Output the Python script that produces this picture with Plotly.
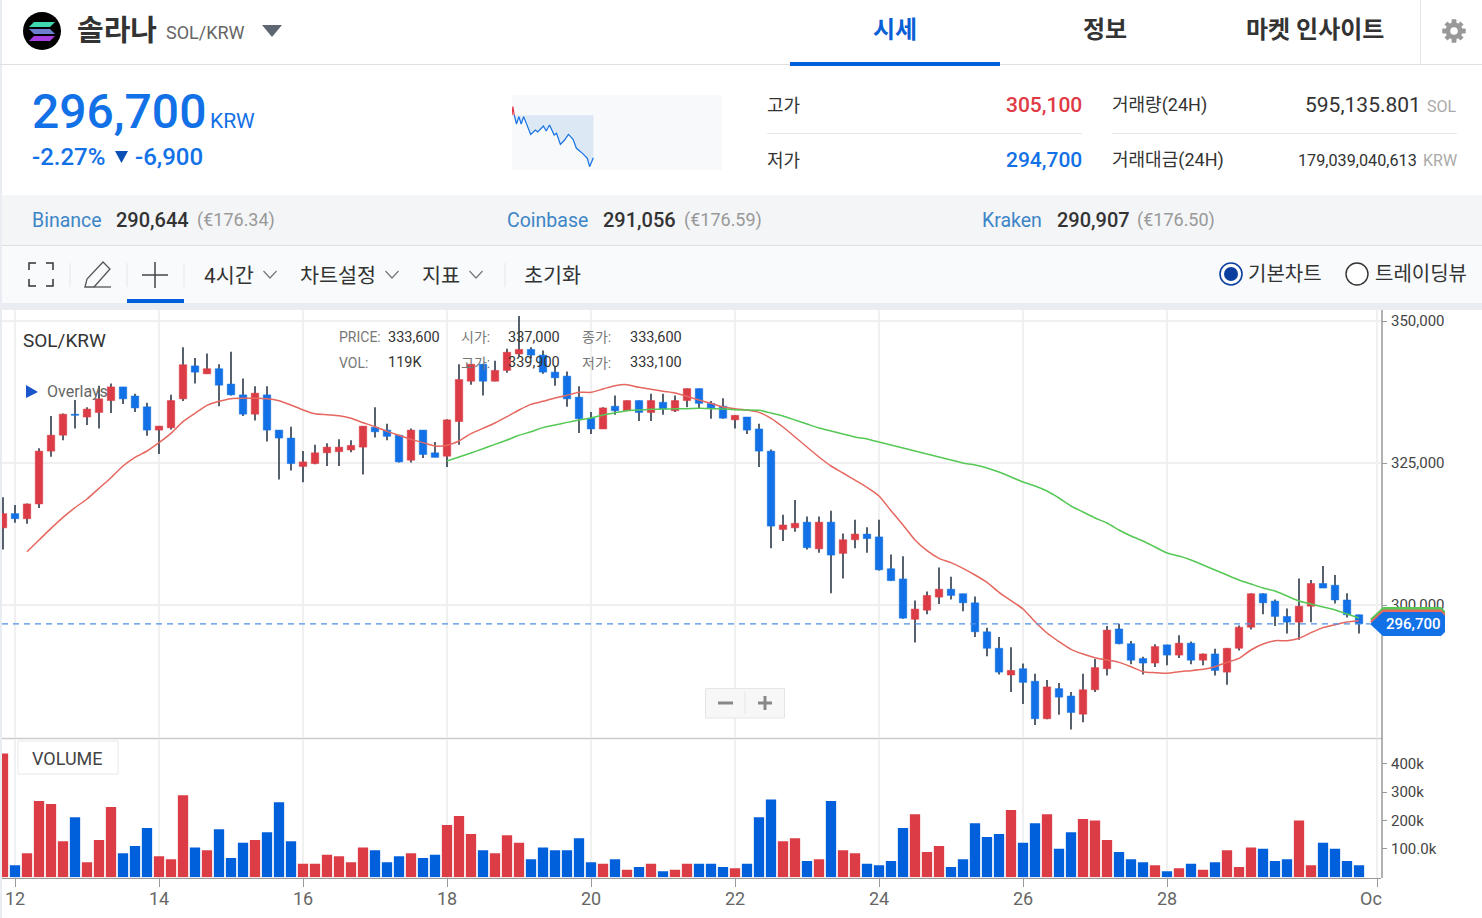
import numpy as np
import pandas as pd
import plotly.graph_objects as go

W, H = 1482, 918

# 4h candles, SOL/KRW
opens = [
    313600, 316100, 315200, 317800, 327100, 329900, 333600, 333100, 333900, 336000,
    338400, 336800, 334900, 330800, 331200, 336300, 342100, 340700, 341600, 338900,
    337000, 333600, 337000, 330800, 329400, 324400, 324900, 326800, 327000, 327300,
    327800, 331300, 330800, 329900, 325500, 330800, 326800, 326200, 332300, 339400,
    342400, 339400, 341300, 344200, 345000, 344000, 341000, 340300, 336600, 332900,
    331000, 335000, 334200, 336000, 333900, 335700, 334200, 336000, 338100, 335500,
    335000, 332600, 333100, 331000, 327100, 313300, 313600, 314600, 309900, 314600,
    309100, 311500, 312500, 312000, 306400, 304600, 297500, 299100, 301400, 302800,
    302000, 300400, 295300, 292400, 287700, 288800, 286600, 280000, 285300, 284000,
    280800, 285100, 288800, 295800, 293200, 290600, 289800, 293000, 291200, 293300,
    290300, 291400, 288200, 292400, 296100, 302000, 300700, 298000, 297000, 299800,
    303800, 303500, 300900, 298300,
]
highs = [
    319000, 317600, 317900, 327600, 333300, 333700, 336100, 334800, 338600, 339000,
    338400, 337200, 335600, 331500, 337000, 345400, 343500, 344300, 342400, 344600,
    339900, 338500, 338500, 330800, 331400, 327100, 328200, 328500, 329200, 329000,
    331500, 334800, 331900, 329900, 331100, 330800, 328700, 332700, 342400, 342400,
    342400, 343000, 345100, 350900, 345400, 344800, 342100, 341100, 338500, 334000,
    334800, 336900, 336000, 336000, 337200, 337200, 336900, 338100, 338100, 335900,
    336400, 333400, 333100, 331900, 327400, 315900, 318500, 315600, 315600, 316600,
    312600, 315000, 313700, 315000, 308900, 308600, 300800, 302400, 306600, 305000,
    302000, 301500, 296000, 294400, 292600, 289700, 287900, 286800, 286300, 284700,
    287900, 290500, 296300, 296700, 293700, 290900, 293100, 293000, 294700, 293600,
    291500, 292300, 292400, 296400, 302100, 302100, 301000, 299400, 304700, 304400,
    306900, 305300, 302100, 298300,
]
lows = [
    309800, 314500, 314300, 317100, 326100, 329000, 331100, 331700, 331100, 333800,
    335400, 334000, 329800, 326600, 330900, 335900, 339000, 340700, 335000, 336900,
    333300, 332500, 328800, 322100, 323700, 321600, 324800, 324500, 324500, 326900,
    323000, 329500, 329000, 325100, 325100, 325900, 326000, 324300, 328200, 338800,
    336900, 339400, 340900, 343700, 343400, 340700, 338600, 334900, 330300, 330100,
    331000, 333500, 334200, 332400, 332400, 333500, 334000, 334800, 334600, 332800,
    332800, 331100, 330100, 324300, 310000, 311300, 312900, 309800, 309200, 302100,
    304700, 310000, 309200, 306100, 304300, 297600, 293400, 298400, 300200, 301000,
    298900, 294400, 291000, 287800, 284700, 282600, 278900, 279900, 280700, 278100,
    279400, 284700, 287600, 293100, 289600, 287800, 289100, 289400, 290700, 289600,
    289400, 287600, 286000, 292000, 295700, 298400, 296300, 295000, 293900, 297000,
    303000, 300300, 297800, 295000,
]
closes = [
    316100, 315200, 317800, 327100, 329900, 333600, 333400, 334500, 336300, 338400,
    336300, 334700, 330800, 331500, 336000, 342300, 341000, 341600, 338700, 337000,
    333600, 337300, 330800, 329400, 324900, 325200, 326800, 327800, 327800, 328100,
    331500, 330500, 329700, 325200, 330800, 326500, 326000, 332600, 339700, 342400,
    339400, 341300, 344500, 345000, 344000, 341000, 340000, 336300, 332800, 331000,
    334700, 334200, 336000, 333900, 336000, 334500, 336000, 338100, 335500, 334700,
    332900, 333400, 330800, 327100, 313900, 314100, 314400, 310100, 314600, 308800,
    311500, 312500, 311700, 306200, 304300, 297700, 299300, 301700, 302800, 301700,
    300400, 295300, 292400, 288200, 288500, 286400, 280000, 285600, 283800, 281100,
    285100, 289000, 295600, 293200, 290300, 289800, 292700, 291200, 293300, 290300,
    291400, 288500, 292400, 296100, 302000, 300400, 298000, 297000, 299800, 303800,
    303000, 300900, 298300, 296700,
]
volumes = [
    436000, 42000, 84000, 268000, 258000, 127000, 211000, 53000, 131000, 247000,
    84000, 110000, 173000, 74000, 63000, 289000, 105000, 95000, 169000, 68000,
    121000, 131000, 158000, 264000, 127000, 47000, 47000, 79000, 74000, 53000,
    105000, 95000, 53000, 74000, 84000, 68000, 79000, 184000, 216000, 152000,
    95000, 84000, 148000, 121000, 63000, 105000, 95000, 95000, 137000, 53000,
    47000, 63000, 26000, 36000, 47000, 21000, 26000, 47000, 47000, 47000,
    36000, 32000, 47000, 211000, 274000, 127000, 137000, 57000, 63000, 268000,
    95000, 84000, 47000, 42000, 57000, 173000, 222000, 89000, 110000, 36000,
    63000, 190000, 142000, 152000, 237000, 121000, 190000, 222000, 100000, 158000,
    205000, 200000, 131000, 89000, 63000, 53000, 42000, 21000, 32000, 47000,
    26000, 53000, 95000, 36000, 105000, 100000, 57000, 63000, 200000, 42000,
    121000, 100000, 57000, 42000,
]

# red line starts at the 3rd candle, green one at the 38th
ma_red = [
    309400, 311450, 313500, 315440, 317150, 318670, 320550, 322420, 324480, 326000,
    327120, 328590, 330230, 332280, 333750, 335160, 335860, 336330, 336390, 336390,
    336330, 335980, 335220, 334340, 333690, 333510, 333340, 332870, 332100, 331400,
    330580, 329880, 329170, 328590, 328000, 328120, 328880, 330170, 331110, 332050,
    333160, 334340, 335330, 335860, 336450, 336920, 337450, 337450, 338030, 338620,
    338790, 338320, 337970, 337620, 337330, 336740, 336100, 335510, 334860, 334570,
    334340, 333920, 332870, 331340, 329580, 327820, 326060, 324480, 323250, 322000,
    320730, 319200, 316620, 314100, 311460, 309580, 308230, 307470, 306470, 305300,
    304000, 302240, 300780, 299310, 297080, 295090, 293560, 292210, 291390, 290750,
    290330, 289920, 289160, 288280, 288100, 287990, 288280, 288460, 288690, 289160,
    289920, 290630, 292100, 293150, 293740, 293740, 294150, 295150, 296030, 296550,
    297020, 297260,
]
ma_green = [
    325360, 326060, 326770, 327530, 328290, 329050, 329880, 330520, 331230, 331700,
    332160, 332580, 332930, 333460, 333870, 334220, 334340, 334450, 334510, 334570,
    334570, 334630, 334570, 334510, 334390, 334340, 334280, 333810, 333280, 332580,
    331870, 331170, 330640, 330110, 329580, 329230, 328700, 328180, 327650, 327120,
    326590, 326060, 325540, 325010, 324660, 324130, 323420, 322540, 321660, 320960,
    320080, 318850, 317440, 316380, 315330, 314450, 313220, 312160, 311280, 310220,
    309170, 308640, 307940, 307060, 306180, 305300, 304420, 303710, 303010, 302480,
    301600, 300720, 300190, 299660, 299140, 298430, 297730,
]

# little 24h chart in the header
spark_hours = [0.25, 0.51, 0.79, 1.05, 1.33, 1.76, 2.14, 2.67, 2.94, 3.59, 3.91, 4.29,
               4.82, 5.09, 5.53, 6.01, 6.45, 6.98, 7.36, 8.06, 8.61, 8.87, 9.30]
spark_prices = [303650, 302100, 303370, 302100, 303370, 301630, 300300, 301050, 300710,
                301750, 300880, 301920, 300190, 300480, 298570, 299320, 300300, 299440,
                297880, 297010, 296140, 294700, 296260]
spark_up_hours = [0.0, 0.1, 0.25]
spark_up_prices = [303600, 305100, 303650]
spark_base = 303600

day_ticks = ["2021-09-12", "2021-09-14", "2021-09-16", "2021-09-18", "2021-09-20",
             "2021-09-22", "2021-09-24", "2021-09-26", "2021-09-28", "2021-09-30 22:00"]
day_labels = ["12", "14", "16", "18", "20", "22", "24", "26", "28", ""]
price_ticks = [300000, 325000, 350000]
price_labels = ["300,000", "325,000", "350,000"]
vol_ticks = [100000, 200000, 300000, 400000]
vol_labels = ["100.0k", "200k", "300k", "400k"]
last_price = 296700

RED = "#dc3c46"
BLUE = "#1271e6"
VOL_BLUE = "#0060db"
WICK = "#1f2d3d"
GRID = "#f0f0f0"
SANS = "Roboto, 'Noto Sans CJK KR', sans-serif"

dates = pd.date_range("2021-09-11 20:00", periods=len(opens), freq="4h")
px_ms = 20 * 60 * 1000  # one screen pixel of the time axis
o, h, l, c = map(np.array, (opens, highs, lows, closes))
up = c >= o
t_range = [dates[0] - pd.Timedelta(minutes=20), dates[0] + pd.Timedelta(minutes=20 * 1378)]


def px(x):
    return x / W


def py(y):
    return 1 - y / H


shapes = []
notes = []


def text(x, y, s, size, color="#333333", anchor="left", weight=400, family=SANS):
    notes.append(dict(x=px(x), y=py(y), xref="paper", yref="paper", text=s, showarrow=False,
                      xanchor=anchor, yanchor="middle", borderpad=0, borderwidth=0,
                      font=dict(size=size, color=color, family=family, weight=weight)))


def rect(x0, y0, x1, y1, fill, line=None, layer="below"):
    shapes.append(dict(type="rect", xref="paper", yref="paper", x0=px(x0), x1=px(x1), y0=py(y0), y1=py(y1),
                       fillcolor=fill, line=dict(width=1 if line else 0, color=line or fill), layer=layer))


def seg(x0, y0, x1, y1, color, width=1, layer="below"):
    shapes.append(dict(type="line", xref="paper", yref="paper", x0=px(x0), x1=px(x1), y0=py(y0), y1=py(y1),
                       line=dict(color=color, width=width), layer=layer))


def poly(pts, fill=None, line=None, width=1, close=True, layer="above"):
    d = "M " + " L ".join(f"{px(a):.5f} {py(b):.5f}" for a, b in pts) + (" Z" if close else "")
    shapes.append(dict(type="path", xref="paper", yref="paper", path=d, layer=layer,
                       fillcolor=fill or "rgba(0,0,0,0)",
                       line=dict(color=line or "rgba(0,0,0,0)", width=width if line else 0)))


def circle(cx, cy, r, fill, line=None, width=1):
    shapes.append(dict(type="circle", xref="paper", yref="paper", x0=px(cx - r), x1=px(cx + r),
                       y0=py(cy - r), y1=py(cy + r), fillcolor=fill, layer="above",
                       line=dict(color=line or fill, width=width if line else 0)))


# page blocks
rect(0, 195, W, 245, "#f3f5f7")
seg(0, 245.5, W, 245.5, "#dddfe3")
rect(0, 246, W, 303, "#f8fafc")
rect(0, 303, W, 310, "#e9edf2")
rect(0, 0, 2, H, "#e9edf2")
seg(0, 64.5, W, 64.5, "#e0e0e0")
seg(1420.5, 0, 1420.5, 64, "#e5e5e5")
rect(790, 62, 1000, 66, "#0060db")
seg(767, 133.5, 1082, 133.5, "#e5e7ea")
seg(1112, 133.5, 1457, 133.5, "#e5e7ea")
rect(512, 95, 722, 170, "#f7f9fb")

# logo
circle(42, 31, 19, "#000000")
poly([(34, 22), (55, 22), (50, 27), (29, 27)], fill="#3fd8b0")
poly([(29, 29), (50, 29), (55, 34), (34, 34)], fill="#6e7fd0")
poly([(34, 36), (55, 36), (50, 41), (29, 41)], fill="#a63fe0")
poly([(262, 25), (282, 25), (272, 37)], fill="#5f6673")

# header
text(77, 31, "솔라나", 29, weight=700)
text(166, 32, "SOL/KRW", 18, "#666666")
text(895, 30, "시세", 24, "#0a5fd6", "center", 700)
text(1105, 30, "정보", 24, "#333333", "center", 700)
text(1315, 30, "마켓 인사이트", 24, "#333333", "center", 700)

# gear
for a, b in ((1454, 19.5), (1454, 42.5), (1442.5, 31), (1465.5, 31)):
    seg(a, b, 2 * 1454 - a, 2 * 31 - b, "#999999", 4.5, "above")
for a, b in ((1446, 23), (1462, 23)):
    seg(a, b, 2 * 1454 - a, 2 * 31 - b, "#999999", 4.5, "above")
circle(1454, 31, 8.5, "#999999")
circle(1454, 31, 3.8, "#ffffff")

text(32, 111, "296,700", 48, BLUE, weight=500)
text(210, 121, "KRW", 21, BLUE)
text(32, 157, "-2.27%", 24, BLUE, weight=500)
poly([(115, 151), (128, 151), (121.5, 163)], fill="#0a4fb5")
text(135, 157, "-6,900", 24, BLUE, weight=500)

text(767, 105, "고가", 18)
text(1082, 105, "305,100", 21, "#e03a45", "right", 500)
text(767, 160, "저가", 18)
text(1082, 160, "294,700", 21, BLUE, "right", 500)
text(1112, 105, "거래량(24H)", 18)
text(1421, 105, "595,135.801", 21, "#333333", "right")
text(1457, 106, "SOL", 16, "#aaaaaa", "right")
text(1112, 160, "거래대금(24H)", 18)
text(1417, 161, "179,039,040,613", 16.2, "#333333", "right")
text(1457, 161, "KRW", 16, "#aaaaaa", "right")

for name, nx, val, vx, eur, ex in [("Binance", 32, "290,644", 116, "(€176.34)", 197),
                                   ("Coinbase", 507, "291,056", 603, "(€176.59)", 684),
                                   ("Kraken", 982, "290,907", 1057, "(€176.50)", 1137)]:
    text(nx, 220, name, 19.5, "#3d85c6")
    text(vx, 220, val, 20, "#333333", weight=500)
    text(ex, 220, eur, 18, "#999999")

# toolbar
for pts in ([(29, 270), (29, 263), (36, 263)], [(46, 263), (53, 263), (53, 270)],
            [(29, 279), (29, 286), (36, 286)], [(46, 286), (53, 286), (53, 279)]):
    poly(pts, line="#333333", width=1.5, close=False)
poly([(85, 287), (87, 279), (103, 262), (110, 269), (94, 287)], line="#555555", width=1.3)
seg(94, 287, 111, 287, "#555555", 1.3, "above")
seg(155, 262, 155, 288, "#444444", 1.5, "above")
seg(142, 275, 168, 275, "#444444", 1.5, "above")
rect(127, 299, 184, 303, "#0060db")
for dx in (70, 127, 184, 505):
    seg(dx, 263, dx, 287, "#e4e7eb")
text(204, 276, "4시간", 20.7)
text(300, 276, "차트설정", 20.7)
text(422, 276, "지표", 20.7)
text(524, 276, "초기화", 20.7)
for cx in (270, 392, 476):
    poly([(cx - 6.5, 271), (cx, 278), (cx + 6.5, 271)], line="#777777", width=1.2, close=False)
circle(1231, 274, 11, "#ffffff", "#0a3fa0", 1.6)
circle(1231, 274, 7, "#0a3fa0")
text(1248, 274, "기본차트", 20)
circle(1357, 274, 11, "#ffffff", "#333333", 1.4)
text(1375, 274, "트레이딩뷰", 20)

# chart frame
seg(2, 738.5, 1382, 738.5, "#cccccc", 1.5)
seg(1377, 310, 1377, 878, "#dddddd", 1)
seg(1382, 310, 1382, 878, "#999999", 1.5, "above")

# floating labels on the chart
text(23, 340, "SOL/KRW", 19)
text(339, 337, "PRICE:", 14, "#777777")
text(388, 337, "333,600", 14.5)
text(461, 337, "시가:", 14, "#777777")
text(508, 337, "337,000", 14.5)
text(582, 337, "종가:", 14, "#777777")
text(630, 337, "333,600", 14.5)
text(339, 363, "VOL:", 14, "#777777")
text(388, 363, "119K", 14.5)
text(461, 363, "고가:", 14, "#777777")
text(508, 363, "339,900", 14.5)
text(582, 363, "저가:", 14, "#777777")
text(630, 363, "333,100", 14.5)
poly([(26, 385), (38, 392), (26, 398)], fill="#1a55c9")
text(47, 392, "Overlays", 16, "#666666")

# zoom buttons
rect(705.5, 688.5, 784.5, 718, "#f7f7f7", "#e5e5e5", "above")
seg(745, 692, 745, 714, "#e5e5e5", 1, "above")
seg(718, 703, 733, 703, "#888888", 3, "above")
seg(758, 703, 772, 703, "#888888", 3, "above")
seg(765, 696, 765, 710, "#888888", 3, "above")

rect(18, 741, 118, 774, "#ffffff", "#e8e8e8", "above")
text(67, 758, "VOLUME", 18, "#444444", "center")

# last price line and tag
shapes.append(dict(type="line", xref="paper", yref="y", x0=px(2), x1=px(1370), y0=last_price, y1=last_price,
                   line=dict(color="#4d90e8", width=1.3, dash="6px 5px"), layer="above"))
for shift, color in ((-5, "#55c855"), (-2.5, "#e5675f"), (0, BLUE)):
    poly([(1370, 624 + shift), (1383, 612 + shift), (1441, 612 + shift), (1445, 616 + shift),
          (1445, 632 + shift), (1441, 636 + shift), (1383, 636 + shift)], fill=color)
text(1413, 624, "296,700", 15, "#ffffff", "center", 500)
text(1382, 898, "Oc", 18, "#666666", "right")

fig = go.Figure()

# wicks and bodies are separate bars because the wicks are dark
fig.add_trace(go.Bar(x=dates, base=l, y=h - l, width=1.5 * px_ms, marker=dict(color=WICK, line=dict(width=0)),
                     xaxis="x", yaxis="y"))
fig.add_trace(go.Bar(x=dates, base=np.minimum(o, c), y=np.abs(c - o), width=7.5 * px_ms,
                     marker=dict(color=np.where(up, RED, BLUE).tolist(),
                                 line=dict(color=np.where(up, "rgba(220,60,70,.5)", "rgba(18,113,230,.5)").tolist(), width=1)),
                     xaxis="x", yaxis="y"))
fig.add_trace(go.Scatter(x=dates[2:], y=ma_red, mode="lines", line=dict(color="#e5675f", width=1.5, shape="spline", smoothing=0.6),
                         xaxis="x", yaxis="y"))
fig.add_trace(go.Scatter(x=dates[37:], y=ma_green, mode="lines", line=dict(color="#55c855", width=1.5, shape="spline", smoothing=0.6),
                         xaxis="x", yaxis="y"))

fig.add_trace(go.Bar(x=dates, y=volumes, width=10.3 * px_ms,
                     marker=dict(color=np.where(up, RED, VOL_BLUE).tolist(), line=dict(width=0)),
                     xaxis="x2", yaxis="y2"))

fig.add_trace(go.Scatter(x=spark_hours, y=[spark_base] * len(spark_hours), mode="lines",
                         line=dict(width=0), xaxis="x3", yaxis="y3"))
fig.add_trace(go.Scatter(x=spark_hours, y=spark_prices, mode="lines", fill="tonexty", fillcolor="#dde8f5",
                         line=dict(color="#1271e6", width=1.2), xaxis="x3", yaxis="y3"))
fig.add_trace(go.Scatter(x=spark_up_hours, y=spark_up_prices, mode="lines", line=dict(color="#e03a45", width=1.2),
                         xaxis="x3", yaxis="y3"))

tick_font = dict(size=15, color="#444444", family=SANS)
fig.update_layout(
    width=W, height=H, margin=dict(l=0, r=0, t=0, b=0), autosize=False,
    paper_bgcolor="#ffffff", plot_bgcolor="rgba(0,0,0,0)",
    showlegend=False, hovermode=False, dragmode=False, barmode="overlay",
    shapes=shapes, annotations=notes,
    xaxis=dict(domain=[px(2), px(1381)], range=t_range, type="date", anchor="y", tickvals=day_ticks,
               showticklabels=False, ticks="", showgrid=True, gridcolor=GRID, gridwidth=1.5, zeroline=False),
    yaxis=dict(domain=[py(738), py(310)], range=[276608, 351936], side="right", anchor="x",
               tickvals=price_ticks, ticktext=price_labels, ticks="outside", ticklen=5, tickcolor="#999999",
               tickfont=tick_font, ticklabelstandoff=1, showgrid=True, gridcolor=GRID, gridwidth=1.5, zeroline=False),
    xaxis2=dict(domain=[px(2), px(1381)], range=t_range, type="date", anchor="y2", tickvals=day_ticks,
                ticktext=day_labels, ticks="outside", ticklen=8, tickcolor="#999999", ticklabelstandoff=-4,
                tickfont=dict(size=18, color="#666666", family=SANS), showgrid=True, gridcolor=GRID, gridwidth=1.5,
                showline=True, linecolor="#999999", linewidth=1.5, zeroline=False),
    yaxis2=dict(domain=[py(877.5), py(739.5)], range=[-1000, 485000], side="right", anchor="x2",
                tickvals=vol_ticks, ticktext=vol_labels, ticks="outside", ticklen=5, tickcolor="#999999",
                tickfont=tick_font, ticklabelstandoff=1, showgrid=False, zeroline=False),
    xaxis3=dict(domain=[px(512), px(722)], range=[0, 24], anchor="y3", visible=False),
    yaxis3=dict(domain=[py(170), py(95)], range=[294120, 307120], anchor="x3", visible=False),
)

fig.write_html("out.html", config={"displayModeBar": False, "staticPlot": True},
               post_script="document.body.style.margin='0';document.body.style.overflow='hidden';")
